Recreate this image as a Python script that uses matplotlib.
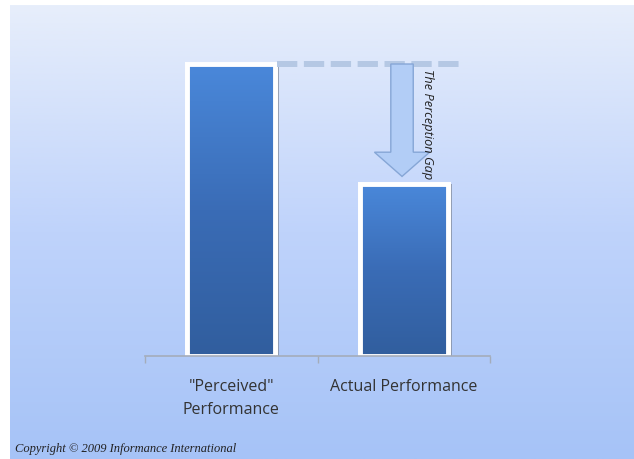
import numpy as np
import matplotlib
matplotlib.use('Agg')
import matplotlib.pyplot as plt
from matplotlib.colors import LinearSegmentedColormap
from matplotlib.patches import FancyArrow

categories = ['"Perceived"\nPerformance', 'Actual Performance']
values = [100, 59]
gap_label = 'The Perception Gap'
copyright_text = 'Copyright \u00a9 2009 Informance International'

fig = plt.figure(figsize=(6.34, 4.6), dpi=100)
fig.patch.set_facecolor('white')

# gradient background panel
bg = fig.add_axes([10 / 634, 0, 1 - 10 / 634, 454 / 460])
bg_cmap = LinearSegmentedColormap.from_list('bg', ['#e7eefb', '#bfd3fb', '#a6c3f7'])
bg.imshow(np.linspace(0, 1, 256).reshape(-1, 1), aspect='auto', cmap=bg_cmap,
          extent=[0, 1, 0, 1], origin='upper')
bg.set_axis_off()

ax = fig.add_axes([145 / 634, 103 / 460, 345 / 634, 317 / 460])
ax.set_facecolor('none')
ax.set_xlim(-0.5, 1.5)
ax.set_ylim(0, 100 * 317 / 292)

x = np.arange(len(categories))
bw = 0.51

# soft shadow on the right
ax.bar(x + 0.022, values, width=bw, color='#7f8898', alpha=0.7, zorder=1)
bars = ax.bar(x, values, width=bw, facecolor='#3f78c8', edgecolor='white',
              linewidth=3.5, zorder=2)
bar_cmap = LinearSegmentedColormap.from_list('bar', ['#4a88da', '#3a6cb6', '#315e9e'])
for b in bars:
    im = ax.imshow(np.linspace(0, 1, 256).reshape(-1, 1), aspect='auto', cmap=bar_cmap,
                   extent=[b.get_x(), b.get_x() + b.get_width(), 0, b.get_height()],
                   origin='upper', zorder=2.1)
    im.set_clip_path(b)
    ax.add_patch(plt.Rectangle((b.get_x(), 0), b.get_width(), b.get_height(),
                               fill=False, edgecolor='white', linewidth=3.5, zorder=2.2))

# dashed reference line at perceived level
ax.plot([0.265, 1.34], [values[0], values[0]], color='#b5c8e4', lw=4.3,
        dashes=(3.4, 1.1), solid_capstyle='butt', zorder=3)

# block arrow showing the gap
arr = FancyArrow(0.99, values[0], 0, -(values[0] - values[1] - 2.5), width=0.13,
                 head_width=0.32, head_length=8.3, length_includes_head=True,
                 facecolor='#b2cdf6', edgecolor='#86a6d6', linewidth=1, zorder=4)
ax.add_patch(arr)
ax.text(1.14, values[0] - 1.5, gap_label, rotation=-90, ha='center', va='top',
        fontsize=9.2, style='italic', color='#222222', family='Open Sans', zorder=5)

ax.set_xticks(x)
ax.set_xticklabels(categories, fontsize=11.5, color='#333333', family='Open Sans',
                   linespacing=1.55)
ax.tick_params(axis='x', which='major', length=0, pad=16)
ax.set_xticks([-0.5, 0.5, 1.5], minor=True)
ax.tick_params(axis='x', which='minor', length=5, color='#a4acba', width=1)
ax.set_yticks([])
for s in ['top', 'right', 'left']:
    ax.spines[s].set_visible(False)
ax.spines['bottom'].set_color('#a4acba')
ax.spines['bottom'].set_linewidth(1.2)

fig.text(15 / 634, 1 - 449 / 460, copyright_text, fontsize=9, style='italic',
         family='Liberation Serif', color='#222222', va='center', ha='left')

fig.savefig('out.png', dpi=100)
